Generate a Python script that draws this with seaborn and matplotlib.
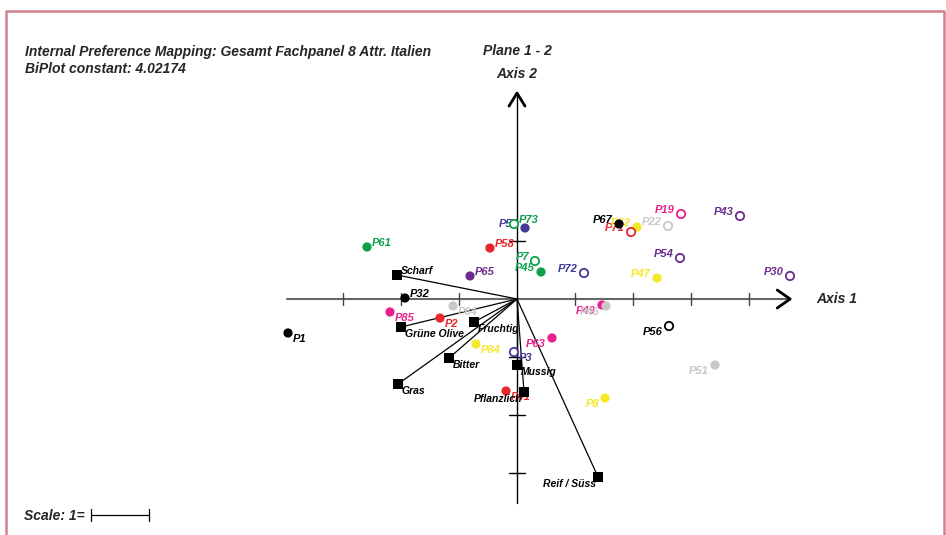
import pandas as pd
import seaborn as sns
import matplotlib.pyplot as plt
from matplotlib.lines import Line2D

# product scores on plane 1-2 (1 unit = one tick)
products = ['P1', 'P32', 'P85', 'P2', 'P64', 'P61', 'P58', 'P65', 'P73', 'P57',
            'P7', 'P45', 'P72', 'P67', 'P71', 'P62', 'P22', 'P19', 'P43', 'P54',
            'P47', 'P30', 'P49', 'P46', 'P56', 'P51', 'P63', 'P8', 'P3', 'P84', 'P41']
prod_x = [-3.948, -1.931, -2.190, -1.328, -1.103, -2.586, -0.466, -0.810, -0.052, 0.138,
          0.310, 0.414, 1.155, 1.759, 1.966, 2.069, 2.603, 2.828, 3.845, 2.810,
          2.414, 4.707, 1.466, 1.534, 2.621, 3.414, 0.603, 1.517, -0.052, -0.707, -0.190]
prod_y = [-0.586, 0.017, -0.224, -0.328, -0.121, 0.897, 0.879, 0.397, 1.293, 1.224,
          0.655, 0.466, 0.448, 1.293, 1.155, 1.241, 1.259, 1.466, 1.431, 0.707,
          0.362, 0.397, -0.103, -0.121, -0.466, -1.138, -0.672, -1.707, -0.914, -0.776, -1.586]
prod_group = ['black', 'black', 'pink', 'red', 'gray', 'green', 'red', 'purple', 'green', 'indigo',
              'green', 'green', 'indigo', 'black', 'red', 'yellow', 'gray', 'pink', 'purple', 'purple',
              'yellow', 'purple', 'pink', 'gray', 'black', 'gray', 'pink', 'yellow', 'indigo', 'yellow', 'red']
prod_filled = [True, True, True, True, True, True, True, True, False, True,
               False, True, False, True, False, True, False, False, False, False,
               True, False, True, True, False, True, True, True, False, True, True]

# attribute loadings (biplot vectors)
attributes = ['Scharf', 'Grüne Olive', 'Fruchtig', 'Bitter', 'Gras', 'Mussig', 'Pflanzlich', 'Reif / Süss']
attr_x = [-2.069, -2.000, -0.741, -1.172, -2.052, 0.0, 0.121, 1.397]
attr_y = [0.414, -0.483, -0.397, -1.017, -1.466, -1.138, -1.603, -3.069]

x_ticks = [-3, -2, -1, 1, 2, 3, 4]
y_ticks = [1, -1, -2, -3]

palette = {'black': '#000000', 'red': '#e8262d', 'pink': '#ec1e8c', 'gray': '#c8c8c8',
           'green': '#0ca04a', 'purple': '#6a2a8e', 'indigo': '#43399a', 'yellow': '#f5e829'}

W, H = 946, 535
UNIT, OX, OY = 58.0, 517, 299
PX = 1.0 / UNIT

sns.set_theme(style='white')
plt.rcParams['font.family'] = ['Liberation Sans', 'DejaVu Sans']
font = dict(fontweight='bold', fontstyle='italic')

fig = plt.figure(figsize=(W / 100, H / 100), dpi=100)
ax = fig.add_axes([0, 0, 1, 1])
ax.set_xlim(-OX / UNIT, (W - OX) / UNIT)
ax.set_ylim(-(H - OY) / UNIT, OY / UNIT)
ax.axis('off')

# axes with ticks and arrow heads
x_end, y_top, y_bot = 4.71, 3.55, -3.52
ax.plot([-3.97, x_end], [0, 0], color='#666666', lw=1.5, zorder=1)
ax.plot([0, 0], [y_bot, y_top], color='black', lw=1, zorder=1)
for t in x_ticks:
    ax.plot([t, t], [-6 * PX, 6 * PX], color='#444444', lw=1, zorder=1)
for t in y_ticks:
    ax.plot([-8 * PX, 8 * PX], [t, t], color='black', lw=1, zorder=1)
ax.plot([x_end - 13 * PX, x_end, x_end - 13 * PX], [9 * PX, 0, -9 * PX],
        color='black', lw=2, zorder=1)
ax.plot([-8 * PX, 0, 8 * PX], [y_top - 13 * PX, y_top, y_top - 13 * PX],
        color='black', lw=2, zorder=1)

ax.text(x_end + 26 * PX, 0, 'Axis 1', ha='left', va='center', fontsize=10, **font)
ax.text(0, y_top + 19 * PX, 'Axis 2', ha='center', va='center', fontsize=10, **font)
ax.text(0, y_top + 42 * PX, 'Plane 1 - 2', ha='center', va='center', fontsize=10, **font)

# attribute vectors
for x, y in zip(attr_x, attr_y):
    ax.plot([0, x], [0, y], color='black', lw=0.9, zorder=1)
sns.scatterplot(x=attr_x, y=attr_y, marker='s', color='black', s=58,
                linewidth=0, ax=ax, zorder=4, legend=False)
for name, x, y in zip(attributes, attr_x, attr_y):
    right = x <= 0
    ax.annotate(name, (x, y), xytext=(4 if right else -2, 4 if y > 0 else -7),
                textcoords='offset pixels', ha='left' if right else 'right',
                va='center', fontsize=7.5, color='black', zorder=5, **font)

# products
df = pd.DataFrame({'name': products, 'x': prod_x, 'y': prod_y,
                   'group': prod_group, 'filled': prod_filled})
for name, x, y, g in zip(df.name, df.x, df.y, df.group):
    right = x <= 0
    ax.annotate(name, (x, y), xytext=(5 if right else -6, 4 if y > 0 else -6),
                textcoords='offset pixels', ha='left' if right else 'right',
                va='center', fontsize=8, color=palette[g], zorder=2.5, **font)

sns.scatterplot(data=df[df.filled], x='x', y='y', hue='group', palette=palette,
                s=44, linewidth=0, ax=ax, zorder=3, legend=False)
sns.scatterplot(data=df[~df.filled], x='x', y='y', hue='group', palette=palette,
                s=36, linewidth=1.3, ax=ax, zorder=3, legend=False)
opened = ax.collections[-1]
opened.set_edgecolors(opened.get_facecolors())
opened.set_facecolors('white')

# titles and scale bar
fig.text(25 / W, 1 - 52 / H, 'Internal Preference Mapping: Gesamt Fachpanel 8 Attr. Italien',
         ha='left', va='center', fontsize=10, **font)
fig.text(25 / W, 1 - 69 / H, 'BiPlot constant: 4.02174',
         ha='left', va='center', fontsize=10, **font)
fig.text(24 / W, 1 - 516 / H, 'Scale: 1=', ha='left', va='center', fontsize=10, **font)
ax.plot([91 / UNIT - OX / UNIT, 149 / UNIT - OX / UNIT], [(OY - 515) / UNIT] * 2,
        color='black', lw=0.9)
for px in (91, 149):
    ax.plot([(px - OX) / UNIT] * 2, [(OY - 509) / UNIT, (OY - 521) / UNIT],
            color='black', lw=0.9)

# frame around the page
edge = '#d0808f'
fig.add_artist(Line2D([6 / W, 6 / W, 944 / W, 944 / W],
                      [0, 1 - 11 / H, 1 - 11 / H, 0],
                      transform=fig.transFigure, color=edge, lw=1.8))

fig.savefig('out.png', dpi=100)
